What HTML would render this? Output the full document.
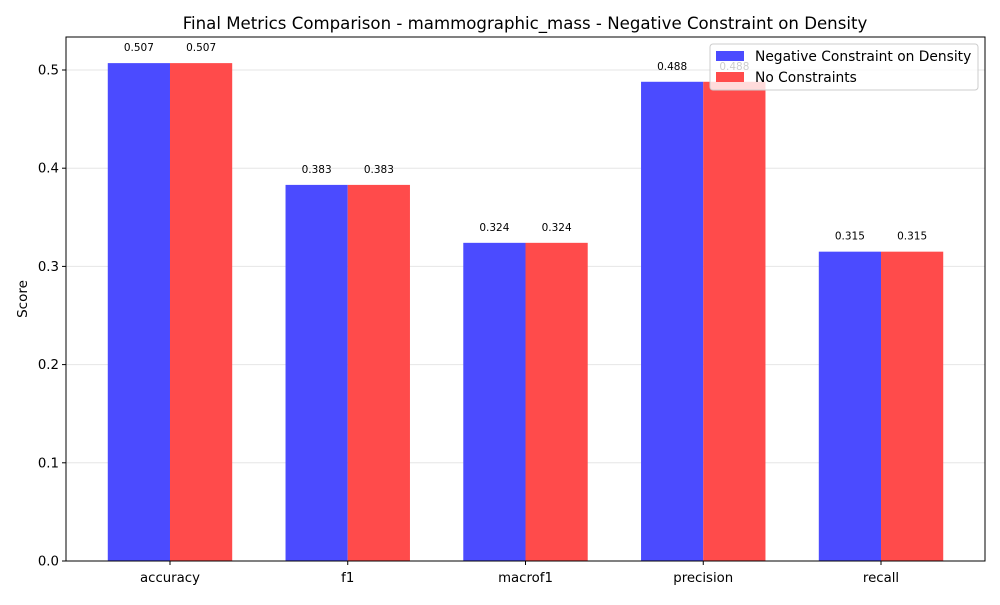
<!DOCTYPE html>
<html><head><meta charset="utf-8"><style>
body{margin:0;background:#fff;font-family:"Liberation Sans","DejaVu Sans",sans-serif;}
svg text{font-family:"DejaVu Sans","Liberation Sans",sans-serif;}
</style></head><body>
<svg id="chart" width="1000" height="600" xmlns="http://www.w3.org/2000/svg">
<rect width="1000" height="600" fill="#fff"/>
<text x="525" y="29" font-size="16.6" text-anchor="middle">Final Metrics Comparison - mammographic_mass - Negative Constraint on Density</text>
<g id="grid"></g><g id="bars"></g><g id="labels"></g><g id="axes"></g>
<text transform="translate(27,299) rotate(-90)" font-size="13.5" text-anchor="middle">Score</text>
<g>
<rect x="710" y="44" width="268" height="46" fill="#fff" fill-opacity="0.8" stroke="#ccc" rx="3"/>
<rect x="716" y="51" width="28" height="10" fill="#4b4bff"/>
<text x="755" y="61" font-size="13.8">Negative Constraint on Density</text>
<rect x="716" y="72" width="28" height="10" fill="#ff4b4b"/>
<text x="755" y="82" font-size="13.8">No Constraints</text>
</g>
</svg>
<script>
const categories=["accuracy","f1","macrof1","precision","recall"];
const negValues=[0.507,0.383,0.324,0.488,0.315];
const noneValues=[0.507,0.383,0.324,0.488,0.315];
const yTicks=[0,0.1,0.2,0.3,0.4,0.5];
const L=66,R=985,T=37,B=561,ymax=0.5336,xmin=-0.585,xmax=4.585,bw=0.35;
const NS="http://www.w3.org/2000/svg";
function xs(v){return L+(v-xmin)/(xmax-xmin)*(R-L);}
function ys(v){return B-v/ymax*(B-T);}
function mk(tag,attrs,parent,txt){const e=document.createElementNS(NS,tag);for(const k in attrs)e.setAttribute(k,attrs[k]);if(txt!==undefined)e.textContent=txt;document.getElementById(parent).appendChild(e);return e;}
yTicks.forEach(t=>{
 const g=mk("line",{x1:L,x2:R,y1:ys(t),y2:ys(t),stroke:"#e6e6e6","stroke-width":1},"grid");
 
 
 const tk=mk("line",{x1:L-4,x2:L,y1:ys(t),y2:ys(t),stroke:"#000"},"axes");
 
 
 const tl=mk("text",{x:L-7,y:ys(t)+4.5,"font-size":13.3,"text-anchor":"end"},"axes",t.toFixed(1));
 
 
});
categories.forEach((c,i)=>{
 [[negValues,-1,"#4b4bff","neg"],[noneValues,0,"#ff4b4b","none"]].forEach(([arr,off,col,nm])=>{
  const x0=xs(i+off*bw),x1=xs(i+(off+1)*bw);
  const r=mk("rect",{x:x0,y:ys(arr[i]),width:x1-x0,height:B-ys(arr[i]),fill:col},"bars");
  
  
  const lb=mk("text",{x:(x0+x1)/2,y:ys(arr[i])-12,"font-size":10.5,"text-anchor":"middle"},"labels",arr[i].toFixed(3));
  
  
 });
 const tk=mk("line",{x1:xs(i),x2:xs(i),y1:B,y2:B+4,stroke:"#000"},"axes");
 
 
 const tl=mk("text",{x:xs(i),y:B+21,"font-size":13.3,"text-anchor":"middle"},"axes",c);
 
 
});
const fr=mk("rect",{x:L,y:T,width:R-L,height:B-T,fill:"none",stroke:"#000","stroke-width":1},"axes");


</script>
</body></html>
